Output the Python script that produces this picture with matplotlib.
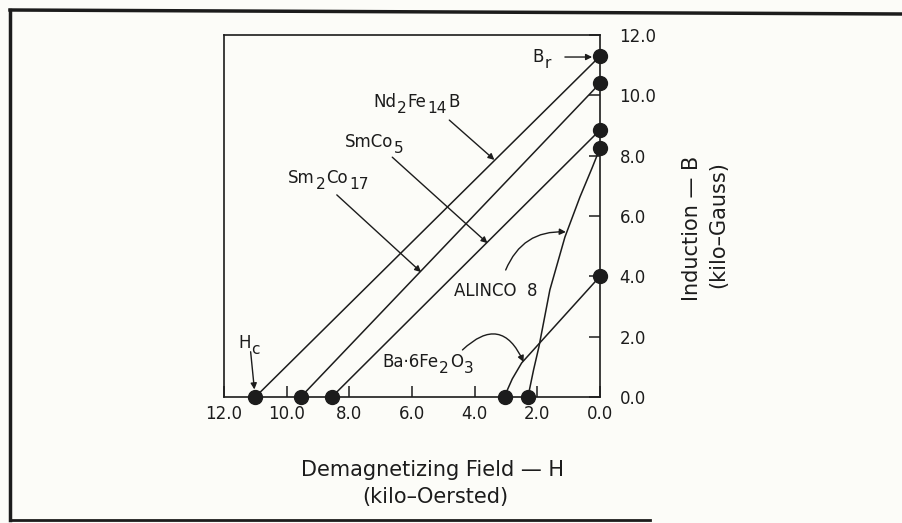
import matplotlib.pyplot as plt

# demagnetization curves, H in kOe (plotted right to left), B in kG
nd_h = [11.0, 0.0]
nd_b = [0.0, 11.3]

smco5_h = [9.55, 0.0]
smco5_b = [0.0, 10.4]

sm2co17_h = [8.56, 0.0]
sm2co17_b = [0.0, 8.85]

alnico_h = [2.3, 2.12, 1.95, 1.6, 1.12, 0.64, 0.25, 0.0]
alnico_b = [0.0, 0.9, 1.66, 3.55, 5.30, 6.63, 7.6, 8.25]

ferrite_h = [3.04, 2.95, 2.8, 2.5, 0.0]
ferrite_b = [0.0, 0.25, 0.6, 1.13, 4.0]

# coercive field (Hc) and remanence (Br) end points
hc_values = [11.0, 9.55, 8.56, 2.3, 3.04]
br_values = [11.3, 10.4, 8.85, 8.25, 4.0]

tick_values = [0, 2, 4, 6, 8, 10, 12]
tick_labels = ['0.0', '2.0', '4.0', '6.0', '8.0', '10.0', '12.0']

ink = '#1c1c1c'
paper = '#fcfcf8'

fig = plt.figure(figsize=(9.03, 5.23), dpi=100, facecolor=paper)
W, H = 903, 523
ax = fig.add_axes([224 / W, 1 - 397 / H, 376 / W, 362 / H])
ax.set_facecolor(paper)

for hh, bb in [(nd_h, nd_b), (smco5_h, smco5_b), (sm2co17_h, sm2co17_b),
               (alnico_h, alnico_b), (ferrite_h, ferrite_b)]:
    ax.plot(hh, bb, color=ink, lw=1.1)

ax.plot(hc_values, [0] * len(hc_values), 'o', color=ink, ms=10, clip_on=False, zorder=5)
ax.plot([0] * len(br_values), br_values, 'o', color=ink, ms=10, clip_on=False, zorder=5)

ax.set_xlim(12, 0)
ax.set_ylim(0, 12)

ax.set_xticks(tick_values)
ax.set_xticklabels(tick_labels)
ax.set_yticks(tick_values)
ax.set_yticklabels(tick_labels)
ax.yaxis.tick_right()
ax.tick_params(axis='both', direction='in', length=8, width=1.1, color=ink,
               labelsize=12, labelcolor=ink)
ax.tick_params(axis='x', pad=6)
ax.tick_params(axis='y', pad=14)
for s in ax.spines.values():
    s.set_color(ink)
    s.set_linewidth(1.2)

renderer = fig.canvas.get_renderer()


# formula text with full-size, lowered subscripts like the original plotter lettering
def formula(x_px, y_px, parts, size=12):
    x = x_px
    for s, sub in parts:
        dy = 6 if sub else 0
        t = fig.text(x / W, 1 - (y_px + dy) / H, s, fontsize=size * (0.92 if sub else 1),
                     color=ink, va='baseline', ha='left')
        x += t.get_window_extent(renderer).width + 1


# labels with arrows
arrow = dict(arrowstyle='-|>', color=ink, lw=1.0, mutation_scale=9, shrinkA=0, shrinkB=0)

ax.annotate('', xy=(0.25, 11.27), xytext=(1.12, 11.27), arrowprops=arrow)
formula(532, 62, [('B', False), ('r', True)])
ax.annotate('', xy=(11.03, 0.25), xytext=(11.15, 1.5), arrowprops=arrow)
formula(238, 348, [('H', False), ('c', True)])

ax.annotate('', xy=(3.37, 7.86), xytext=(4.81, 9.18), arrowprops=arrow)
formula(373, 107, [('Nd', False), ('2', True), ('Fe', False), ('14', True), ('B', False)])
ax.annotate('', xy=(3.59, 5.10), xytext=(6.63, 7.95), arrowprops=arrow)
formula(345, 147, [('SmCo', False), ('5', True)])
ax.annotate('', xy=(5.71, 4.14), xytext=(8.40, 6.70), arrowprops=arrow)
formula(288, 183, [('Sm', False), ('2', True), ('Co', False), ('17', True)])

ax.annotate('', xy=(1.09, 5.47), xytext=(3.01, 4.21),
            arrowprops=dict(arrow, connectionstyle='arc3,rad=-0.35'))
ax.text(3.33, 3.51, 'ALINCO  8', fontsize=12, color=ink, ha='center', va='center')
ax.annotate('', xy=(2.44, 1.16), xytext=(4.39, 1.56),
            arrowprops=dict(arrow, connectionstyle='arc3,rad=-0.7'))
formula(382, 367, [('Ba·6Fe', False), ('2', True), ('O', False), ('3', True)])

# axis titles
fig.text(433 / W, 1 - 470 / H, 'Demagnetizing Field — H', fontsize=15, color=ink,
         ha='center', va='center')
fig.text(435 / W, 1 - 497 / H, '(kilo–Oersted)', fontsize=15, color=ink,
         ha='center', va='center')
fig.text(692 / W, 1 - 228 / H, 'Induction — B', fontsize=15, color=ink,
         ha='center', va='center', rotation=90)
fig.text(718 / W, 1 - 225 / H, '(kilo–Gauss)', fontsize=15, color=ink,
         ha='center', va='center', rotation=90)

# scanned page frame
fig.add_artist(plt.Line2D([10 / W, 10 / W], [1 - 10 / H, 1 - 520 / H], color=ink, lw=2.5))
fig.add_artist(plt.Line2D([10 / W, 1.0], [1 - 10 / H, 1 - 14 / H], color=ink, lw=2.5))
fig.add_artist(plt.Line2D([10 / W, 650 / W], [1 - 520 / H, 1 - 520 / H], color=ink, lw=2.0))

plt.savefig('out.png', dpi=100, facecolor=paper)
